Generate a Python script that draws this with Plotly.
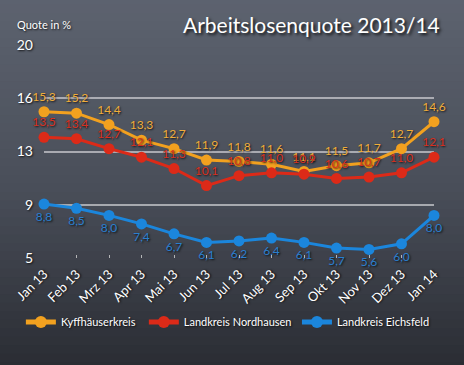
import plotly.graph_objects as go

months = ["Jan 13", "Feb 13", "Mrz 13", "Apr 13", "Mai 13", "Jun 13", "Jul 13",
          "Aug 13", "Sep 13", "Okt 13", "Nov 13", "Dez 13", "Jan 14"]
kyffhaeuser = [15.3, 15.2, 14.4, 13.3, 12.7, 11.9, 11.8, 11.6, 11.1, 11.5, 11.7, 12.7, 14.6]
nordhausen = [13.5, 13.4, 12.7, 12.1, 11.3, 10.1, 10.8, 11.0, 10.9, 10.6, 10.7, 11.0, 12.1]
eichsfeld = [8.8, 8.5, 8.0, 7.4, 6.7, 6.1, 6.2, 6.4, 6.1, 5.7, 5.6, 6.0, 8.0]
ytick_vals = [5, 8.75, 12.5, 16.25, 20]
ytick_text = ["5", "9", "13", "16", "20"]

FONT = "Lato"
SHADOW = "1px 1px 2px rgba(0,0,0,0.8)"

def fmt(v):
    return f"{v:.1f}".replace(".", ",")

series = [
    ("Kyffhäuserkreis", kyffhaeuser, "#f2a11f", "#f0ad3a", "top center", "legend", 0.045),
    ("Landkreis Nordhausen", nordhausen, "#dc2a18", "#d8301f", "top center", "legend2", 0.31),
    ("Landkreis Eichsfeld", eichsfeld, "#1b86dc", "#2a7fcf", "bottom center", "legend3", 0.64),
]

fig = go.Figure()
for name, vals, col, tcol, pos, lg, _ in series:
    fig.add_trace(go.Scatter(
        x=months, y=vals, name=name, mode="lines+markers+text",
        line=dict(color=col, width=3),
        marker=dict(color=col, size=11),
        text=[fmt(v) for v in vals], textposition=pos,
        textfont=dict(family=FONT, size=12, color=tcol, shadow=SHADOW),
        cliponaxis=False, legend=lg,
    ))

# background gradient
shapes = []
n = 50
top = (95, 101, 114)
mid = (74, 79, 90)
bot = (38, 40, 46)
y_hi, y_lo = 1.35, -0.65
for i in range(n):
    t = i / (n - 1)
    if t < 0.5:
        u = t / 0.5
        c = [round(top[k] + (mid[k] - top[k]) * u) for k in range(3)]
    else:
        u = (t - 0.5) / 0.5
        c = [round(mid[k] + (bot[k] - mid[k]) * u) for k in range(3)]
    step = (y_hi - y_lo) / n
    shapes.append(dict(type="rect", xref="paper", yref="paper",
                       x0=-0.3, x1=1.3,
                       y1=y_hi - i * step, y0=y_hi - (i + 1) * step - 0.005,
                       fillcolor=f"rgb({c[0]},{c[1]},{c[2]})", line=dict(width=0),
                       layer="below"))

def legend_cfg(x):
    return dict(orientation="h", x=x, xanchor="left", xref="container",
                y=0.118, yanchor="middle", yref="container",
                font=dict(family=FONT, size=11, color="white", shadow=SHADOW),
                itemsizing="constant", bgcolor="rgba(0,0,0,0)", itemwidth=30)

fig.update_layout(
    width=464, height=365,
    margin=dict(l=44, r=30, t=45, b=107, autoexpand=False),
    paper_bgcolor="#3a3d45", plot_bgcolor="rgba(0,0,0,0)",
    shapes=shapes,
    showlegend=True,
    legend=legend_cfg(series[0][6]),
    legend2=legend_cfg(series[1][6]),
    legend3=legend_cfg(series[2][6]),
    xaxis=dict(type="category", range=[0, 12], showgrid=False, automargin=False,
               tickangle=-45, ticks="inside", ticklen=3, tickcolor="rgba(210,210,210,0.8)",
               tickfont=dict(family=FONT, size=13, color="white", shadow=SHADOW),
               ticklabelstandoff=5, showline=False, zeroline=False),
    yaxis=dict(range=[5, 20], tickvals=ytick_vals, ticktext=ytick_text, automargin=False,
               showgrid=True, gridcolor="rgba(200,200,205,0.75)", gridwidth=1.5,
               zeroline=False, showline=False, ticks="", ticklabelstandoff=10,
               tickfont=dict(family=FONT, size=14, color="white", shadow=SHADOW)),
    annotations=[
        dict(text="Arbeitslosenquote 2013/14", xref="paper", yref="paper",
             x=1.02, y=1, xanchor="right", yanchor="bottom", yshift=6, showarrow=False,
             font=dict(family=FONT, size=21, color="white", shadow="2px 2px 3px rgba(0,0,0,0.8)")),
        dict(text="Quote in %", xref="paper", yref="paper", x=-0.075, y=1,
             xanchor="left", yanchor="bottom", yshift=12, showarrow=False,
             font=dict(family=FONT, size=11, color="white", shadow=SHADOW)),
    ],
)

fig.write_html("out.html", config={"displayModeBar": False},
               post_script="document.body.style.margin='0';")
